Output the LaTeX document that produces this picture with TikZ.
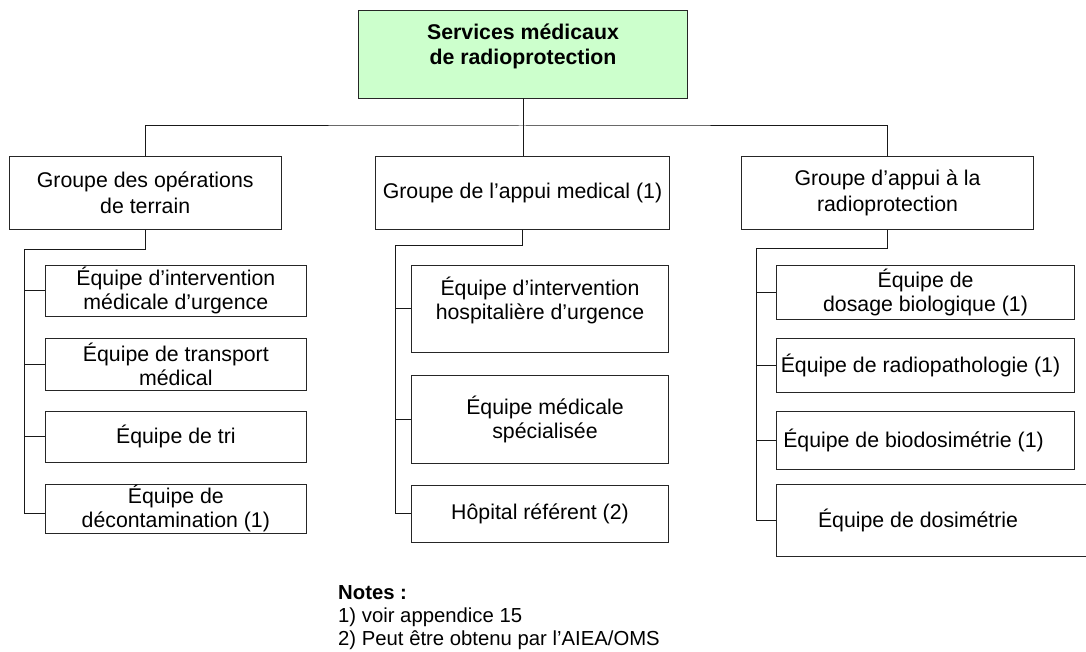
\documentclass[tikz,border=0pt]{standalone}
\usepackage{fontspec}
\setmainfont{Liberation Sans}
\definecolor{topgreen}{HTML}{CCFFCC}
\begin{document}
\begin{tikzpicture}[x=1pt,y=-1pt,
  txt/.style={font=\fontsize{21.3pt}{24pt}\selectfont, align=center},
  box/.style={txt, draw=black!85, line width=0.9pt, inner sep=1pt},
  grp/.style={box, font=\fontsize{21.3pt}{25.5pt}\selectfont, minimum height=72.6pt},
  lbl/.style={txt, inner sep=0pt},
  conn/.style={draw=black!90, line width=1pt},
  notefont/.style={font=\fontsize{20.3pt}{23pt}\selectfont, align=left, inner sep=0pt}
]
\useasboundingbox (0,0) rectangle (1086,652);
\clip (0,0) rectangle (1086,652);

% head of the organisation
\node[box, fill=topgreen, minimum width=329pt, minimum height=88pt,
      label={[lbl, font=\fontsize{21.3pt}{25.5pt}\selectfont\bfseries, yshift=7.5pt]center:{Services médicaux\\de radioprotection}}]
      (top) at (523,54) {};

% the three groups
\node[grp, minimum width=272pt] (g1) at (145.2,193) {Groupe des opérations\\de terrain};
\node[grp, minimum width=294pt] (g2) at (522.5,193) {Groupe de l’appui medical (1)};
\node[grp, minimum width=291.6pt] (g3) at (887.5,193) {Groupe d’appui à la\\radioprotection};

% field operations teams
\node[box, minimum width=261.7pt, minimum height=51.7pt] (l1) at (175.85,290.85) {Équipe d’intervention\\médicale d’urgence};
\node[box, minimum width=261.7pt, minimum height=51.7pt] (l2) at (175.85,364.15) {Équipe de transport\\médical};
\node[box, minimum width=261.7pt, minimum height=51.7pt] (l3) at (175.85,436.85) {Équipe de tri};
\node[box, minimum width=261.7pt, minimum height=49pt] (l4) at (175.85,508.8) {Équipe de\\décontamination (1)};

% medical support teams
\node[box, minimum width=256.6pt, minimum height=87.7pt,
      label={[lbl, yshift=8pt]center:{Équipe d’intervention\\hospitalière d’urgence}}]
      (m1) at (540,308.85) {};
\node[box, minimum width=256.6pt, minimum height=87.6pt,
      label={[lbl, xshift=5pt]center:{Équipe médicale\\spécialisée}}]
      (m2) at (540,419.5) {};
\node[box, minimum width=256.6pt, minimum height=57.3pt] (m3) at (540,513.65) {Hôpital référent (2)};

% radiation protection support teams
\node[box, minimum width=297.6pt, minimum height=54pt] (r1) at (925.5,292) {Équipe de\\dosage biologique (1)};
\node[box, minimum width=297.6pt, minimum height=54pt,
      label={[lbl, xshift=-5pt]center:{Équipe de radiopathologie (1)}}]
      (r2) at (925.5,365.3) {};
\node[box, minimum width=297.6pt, minimum height=57.6pt,
      label={[lbl, xshift=-12pt]center:{Équipe de biodosimétrie (1)}}]
      (r3) at (925.5,440.5) {};
\node[box, minimum width=319.3pt, minimum height=72.7pt,
      label={[lbl, xshift=-18.3pt]center:{Équipe de dosimétrie}}]
      (r4) at (936.35,520.35) {};

% connectors from the head to the groups
\coordinate (bus) at (522.5,126);
\draw[conn] (top.south) -- (top.south |- g2.north);
\draw[conn] (g1.north) |- (bus) -| (g3.north);

% connectors to the teams
\coordinate (lb) at (24.3,249.3);
\draw[conn] (g1.south) |- (lb) |- ([yshift=-4.5pt]l4.west);
\foreach \n in {l1,l2,l3} \draw[conn] (lb |- \n.west) -- (\n.west);

\coordinate (mb) at (395.7,246);
\draw[conn] (g2.south) |- (mb) |- (m3.west);
\foreach \n in {m1,m2} \draw[conn] (mb |- \n.west) -- (\n.west);

\coordinate (rb) at (756,248.3);
\draw[conn] (g3.south) |- (rb) |- (r4.west);
\foreach \n in {r1,r2,r3} \draw[conn] (rb |- \n.west) -- (\n.west);

% notes
\node[notefont, anchor=north west] (notes) at (338,585.5)
  {\textbf{Notes :}\\1) voir appendice 15\\2) Peut être obtenu par l’AIEA/OMS};
\end{tikzpicture}
\end{document}
